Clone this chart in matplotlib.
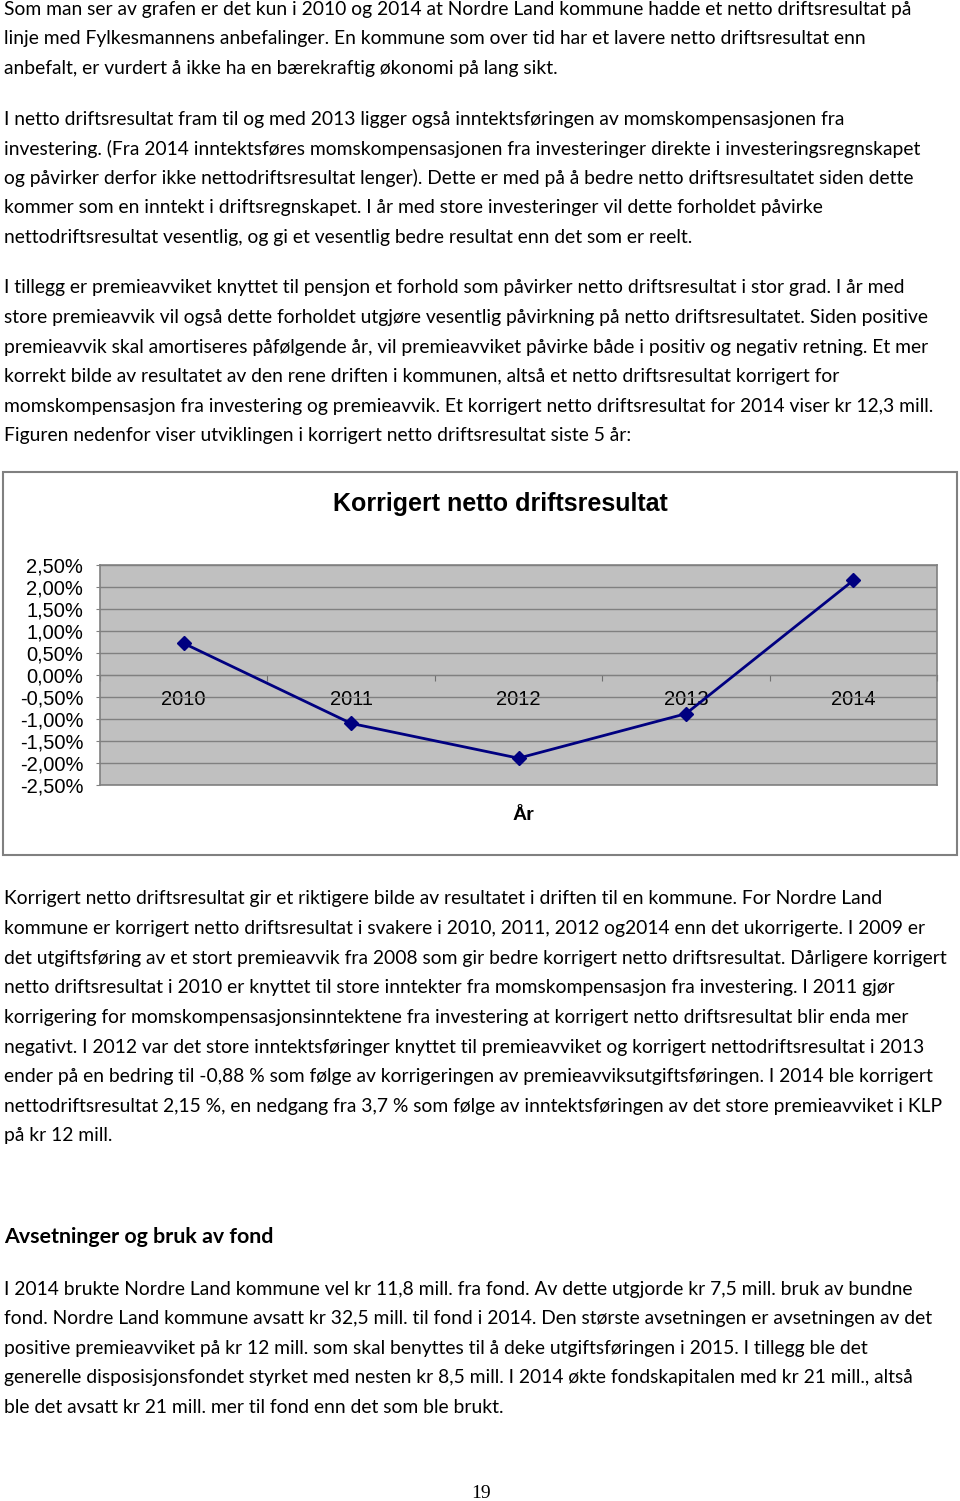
import matplotlib
matplotlib.use("Agg")
import matplotlib.pyplot as plt
from matplotlib.patches import Rectangle

# Sidestørrelse i piksler (dpi 100)
W, H = 960, 1501

# ---------------- data ----------------
years = ["2010", "2011", "2012", "2013", "2014"]
resultat = [0.72, -1.10, -1.89, -0.88, 2.15]  # korrigert netto driftsresultat, %
ytick_vals = [2.5, 2.0, 1.5, 1.0, 0.5, 0.0, -0.5, -1.0, -1.5, -2.0, -2.5]
ytick_labels = ["2,50%", "2,00%", "1,50%", "1,00%", "0,50%", "0,00%",
                "-0,50%", "-1,00%", "-1,50%", "-2,00%", "-2,50%"]
chart_title = "Korrigert netto driftsresultat"
x_title = "År"

para1 = [
    "Som man ser av grafen er det kun i 2010 og 2014 at Nordre Land kommune hadde et netto driftsresultat på",
    "linje med Fylkesmannens anbefalinger. En kommune som over tid har et lavere netto driftsresultat enn",
    "anbefalt, er vurdert å ikke ha en bærekraftig økonomi på lang sikt.",
]
para2 = [
    "I netto driftsresultat fram til og med 2013 ligger også inntektsføringen av momskompensasjonen fra",
    "investering. (Fra 2014 inntektsføres momskompensasjonen fra investeringer direkte i investeringsregnskapet",
    "og påvirker derfor ikke nettodriftsresultat lenger). Dette er med på å bedre netto driftsresultatet siden dette",
    "kommer som en inntekt i driftsregnskapet. I år med store investeringer vil dette forholdet påvirke",
    "nettodriftsresultat vesentlig, og gi et vesentlig bedre resultat enn det som er reelt.",
]
para3 = [
    "I tillegg er premieavviket knyttet til pensjon et forhold som påvirker netto driftsresultat i stor grad. I år med",
    "store premieavvik vil også dette forholdet utgjøre vesentlig påvirkning på netto driftsresultatet. Siden positive",
    "premieavvik skal amortiseres påfølgende år, vil premieavviket påvirke både i positiv og negativ retning. Et mer",
    "korrekt bilde av resultatet av den rene driften i kommunen, altså et netto driftsresultat korrigert for",
    "momskompensasjon fra investering og premieavvik. Et korrigert netto driftsresultat for 2014 viser kr 12,3 mill.",
    "Figuren nedenfor viser utviklingen i korrigert netto driftsresultat siste 5 år:",
]
para4 = [
    "Korrigert netto driftsresultat gir et riktigere bilde av resultatet i driften til en kommune. For Nordre Land",
    "kommune er korrigert netto driftsresultat i svakere i 2010, 2011, 2012 og2014 enn det ukorrigerte. I 2009 er",
    "det utgiftsføring av et stort premieavvik fra 2008 som gir bedre korrigert netto driftsresultat. Dårligere korrigert",
    "netto driftsresultat i 2010 er knyttet til store inntekter fra momskompensasjon fra investering. I 2011 gjør",
    "korrigering for momskompensasjonsinntektene fra investering at korrigert netto driftsresultat blir enda mer",
    "negativt. I 2012 var det store inntektsføringer knyttet til premieavviket og korrigert nettodriftsresultat i 2013",
    "ender på en bedring til -0,88 % som følge av korrigeringen av premieavviksutgiftsføringen. I 2014 ble korrigert",
    "nettodriftsresultat 2,15 %, en nedgang fra 3,7 % som følge av inntektsføringen av det store premieavviket i KLP",
    "på kr 12 mill.",
]
heading = "Avsetninger og bruk av fond"
para5 = [
    "I 2014 brukte Nordre Land kommune vel kr 11,8 mill. fra fond. Av dette utgjorde kr 7,5 mill. bruk av bundne",
    "fond. Nordre Land kommune avsatt kr 32,5 mill. til fond i 2014. Den største avsetningen er avsetningen av det",
    "positive premieavviket på kr 12 mill. som skal benyttes til å deke utgiftsføringen i 2015. I tillegg ble det",
    "generelle disposisjonsfondet styrket med nesten kr 8,5 mill. I 2014 økte fondskapitalen med kr 21 mill., altså",
    "ble det avsatt kr 21 mill. mer til fond enn det som ble brukt.",
]
page_no = "19"

BODY_FONT = ["Lato", "DejaVu Sans"]
BODY_SIZE = 13.9
LINE = 29.6

fig = plt.figure(figsize=(W / 100, H / 100), dpi=100)


def put(x, y, s, **kw):
    fig.text(x / W, 1 - y / H, s, **kw)


def paragraph(lines, y0):
    for i, s in enumerate(lines):
        put(4, y0 + i * LINE, s, family=BODY_FONT, fontsize=BODY_SIZE,
            va="center", ha="left", color="black")


paragraph(para1, 9)
paragraph(para2, 119)
paragraph(para3, 288)
paragraph(para4, 899)
put(4, 1237, heading, family=BODY_FONT, fontsize=15.4, fontweight="bold", va="center")
paragraph(para5, 1289)
put(481, 1493, page_no, family="Liberation Serif", fontsize=14, ha="center", va="center")

# ---------------- diagram ----------------
fig.patches.append(Rectangle((3 / W, 1 - 855 / H), 954 / W, 383 / H,
                             transform=fig.transFigure, fill=False,
                             ec="#808080", lw=1.5))
put(500, 504, chart_title, family="Liberation Sans", fontsize=18,
    fontweight="bold", ha="center", va="center")
put(523, 816, x_title, family="Liberation Sans", fontsize=14,
    fontweight="bold", ha="center", va="center")

ax = fig.add_axes([100 / W, 1 - 785 / H, 837 / W, 220 / H])
ax.set_facecolor("#c0c0c0")
x = list(range(len(years)))
ax.plot(x, resultat, color="#000080", lw=2, marker="D", markersize=7, zorder=5)
ax.set_xlim(-0.5, len(years) - 0.5)
ax.set_ylim(-2.5, 2.5)
ax.set_yticks(ytick_vals, labels=ytick_labels)
ax.tick_params(axis="y", length=3, color="#808080", pad=9, labelsize=14.5)
for lab in ax.get_yticklabels():
    lab.set_family("Liberation Sans")
ax.tick_params(axis="x", bottom=False, labelbottom=False)
ax.yaxis.grid(True, color="#808080", lw=1)
ax.set_axisbelow(True)
for sp in ax.spines.values():
    sp.set_color("#808080")
    sp.set_linewidth(1.2)

# kategoriakse på 0-linjen
sec = ax.secondary_xaxis(0.5)
sec.xaxis.set_ticks_position("bottom")
for side in ("top", "bottom"):
    sec.spines[side].set_color("#707070")
sec.set_xticks([i - 0.5 for i in range(len(years) + 1)], labels=[""] * (len(years) + 1))
sec.set_xticks(x, labels=years, minor=True)
sec.tick_params(which="major", length=4, color="#707070", direction="out")
sec.tick_params(which="minor", length=0, pad=11, labelsize=14.5)
for lab in sec.get_xticklabels(minor=True):
    lab.set_family("Liberation Sans")

fig.savefig("out.png", dpi=100)
